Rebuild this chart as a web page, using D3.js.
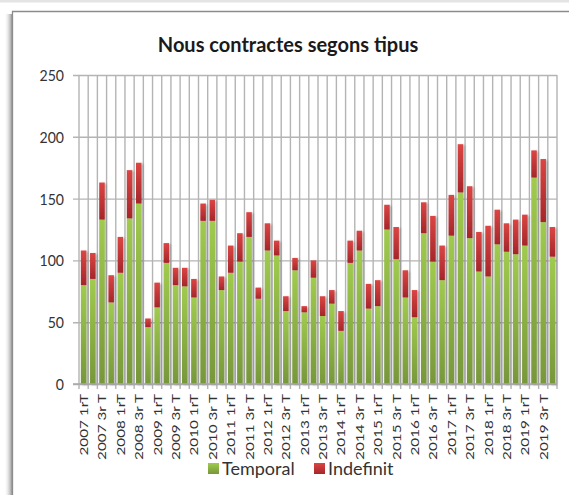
<!DOCTYPE html>
<html>
<head>
<meta charset="utf-8">
<script src="https://cdn.jsdelivr.net/npm/d3@7"></script>
<style>
  html, body { margin: 0; padding: 0; background: #fff; }
  svg { display: block; }
  text { font-family: Lato, "Open Sans", sans-serif; fill: #333; }
</style>
</head>
<body>
<svg id="chart" width="569" height="495"></svg>
<script>
// Quarterly new contracts by type
const years = d3.range(2007, 2020);
const quarterNames = ["1rT", "2n T", "3r T", "4t T"];
const categories = years.flatMap(y => quarterNames.map(q => `${y} ${q}`));

const temporal = [
  80, 85, 133, 66, 90, 134, 146, 46,
  62, 98, 80, 79, 70, 132, 132, 76,
  90, 99, 119, 69, 108, 104, 59, 92,
  58, 86, 55, 65, 43, 98, 108, 61,
  63, 125, 101, 70, 54, 122, 99, 84,
  120, 155, 118, 91, 87, 113, 107, 105,
  112, 167, 131, 103
];
const indefinit = [
  28, 21, 30, 22, 29, 39, 33, 7,
  20, 16, 14, 15, 15, 14, 17, 11,
  22, 23, 20, 9, 22, 12, 12, 10,
  5, 14, 16, 11, 16, 18, 16, 20,
  21, 20, 26, 22, 22, 25, 37, 28,
  33, 39, 42, 32, 41, 28, 23, 28,
  25, 22, 51, 24
];
const seriesNames = ["Temporal", "Indefinit"];
const yTicks = [0, 50, 100, 150, 200, 250];

const svg = d3.select("#chart");
const defs = svg.append("defs");

// gradients for bar fills
function vGrad(id, top, bottom) {
  const g = defs.append("linearGradient").attr("id", id)
    .attr("x1", 0).attr("y1", 0).attr("x2", 0).attr("y2", 1);
  g.append("stop").attr("offset", "0%").attr("stop-color", top);
  g.append("stop").attr("offset", "100%").attr("stop-color", bottom);
}
vGrad("gGreen", "#a0cb4e", "#77973a");
vGrad("gRed", "#dc4543", "#a4262a");

const sh = defs.append("linearGradient").attr("id", "frameShadow")
  .attr("x1", 0).attr("y1", 0).attr("x2", 1).attr("y2", 0);
sh.append("stop").attr("offset", "0%").attr("stop-color", "#fff").attr("stop-opacity", 0);
sh.append("stop").attr("offset", "100%").attr("stop-color", "#8a8a8a").attr("stop-opacity", 0.9);

const f = defs.append("filter").attr("id", "barShadow")
  .attr("x", "-50%").attr("y", "-10%").attr("width", "200%").attr("height", "130%");
f.append("feDropShadow").attr("dx", 1.5).attr("dy", 1).attr("stdDeviation", 0.8)
  .attr("flood-color", "#000").attr("flood-opacity", 0.3);

// outer frame of the chart
svg.append("rect").attr("x", 0).attr("y", 0).attr("width", 569).attr("height", 2.5).attr("fill", "#e4e4e4");
svg.append("rect").attr("x", 4).attr("y", 14).attr("width", 8).attr("height", 481).attr("fill", "url(#frameShadow)");
svg.append("path").attr("d", "M12.5,495 V11.5 H569")
  .attr("fill", "none").attr("stroke", "#8c8c8c").attr("stroke-width", 1.3);

// scales
const x = d3.scaleBand().domain(categories).range([79, 557]).paddingInner(0).paddingOuter(0);
const y = d3.scaleLinear().domain([0, 250]).range([384, 75]);
const barW = x.bandwidth() * 0.6;
const gridColor = "#b4b4b4";

// vertical gridlines at category boundaries
const bounds = categories.map(c => x(c)).concat([x.range()[1]]);
svg.append("g").selectAll("line").data(bounds).join("line")
  .attr("x1", d => d).attr("x2", d => d)
  .attr("y1", y(250)).attr("y2", y(0) + 5)
  .attr("stroke", gridColor).attr("stroke-width", 1.4);

// horizontal gridlines + y axis labels
const yAxis = d3.axisLeft(y).tickValues(yTicks).tickSize(-(557 - 79)).tickSizeOuter(0).tickPadding(0);
const gy = svg.append("g").attr("transform", "translate(79,0)").call(yAxis);
gy.select(".domain").remove();
gy.selectAll(".tick line").attr("stroke", gridColor).attr("stroke-width", 1.4).attr("x1", -6);
gy.selectAll(".tick text")
  .attr("x", null).attr("dy", null)
  .attr("transform", "translate(-15,5.5) scale(0.88,1)")
  .attr("text-anchor", "end")
  .style("font-size", "16px").style("fill", "#333");

// stacked bars
const stackData = categories.map((c, i) => ({ cat: c, Temporal: temporal[i], Indefinit: indefinit[i] }));
const stacked = d3.stack().keys(seriesNames)(stackData);
const fills = { Temporal: "url(#gGreen)", Indefinit: "url(#gRed)" };

const bars = svg.append("g").attr("filter", "url(#barShadow)");
bars.selectAll("g").data(stacked).join("g")
  .attr("fill", d => fills[d.key])
  .selectAll("rect").data(d => d).join("rect")
  .attr("x", d => x(d.data.cat) + (x.bandwidth() - barW) / 2)
  .attr("width", barW)
  .attr("y", d => y(d[1]))
  .attr("height", d => y(d[0]) - y(d[1]));

// x axis line
svg.append("line").attr("x1", 73).attr("x2", 557).attr("y1", y(0)).attr("y2", y(0))
  .attr("stroke", "#a8a8a8").attr("stroke-width", 1.5);

// x axis labels (every other quarter)
svg.append("g").selectAll("text")
  .data(categories.filter((c, i) => i % 2 === 0)).join("text")
  .attr("transform", d => `translate(${x(d) + x.bandwidth() / 2 + 4.5},394) rotate(-90) scale(1.02,0.8)`)
  .attr("text-anchor", "end")
  .style("font-size", "15px")
  .text(d => d);

// title
svg.append("text").attr("x", 288).attr("y", 52).attr("text-anchor", "middle")
  .style("font-size", "20px").style("font-weight", "bold").style("fill", "#1a1a1a")
  .text("Nous contractes segons tipus");

// legend
const legend = svg.append("g");
const legendItems = [
  { name: seriesNames[0], fill: "url(#gGreen)", x: 208 },
  { name: seriesNames[1], fill: "url(#gRed)", x: 314 }
];
legendItems.forEach(it => {
  legend.append("rect").attr("x", it.x).attr("y", 463).attr("width", 11).attr("height", 11).attr("fill", it.fill);
  legend.append("text").attr("x", it.x + 14).attr("y", 474.5)
    .style("font-size", "18px").style("fill", "#333").text(it.name);
});
</script>
</body>
</html>
